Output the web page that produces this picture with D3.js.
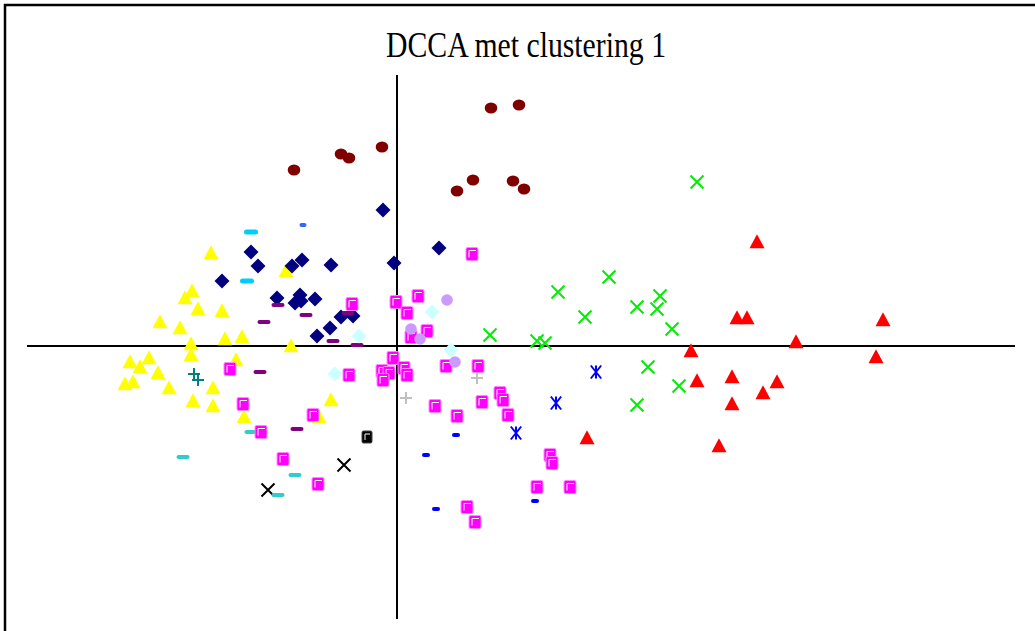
<!DOCTYPE html>
<html>
<head>
<meta charset="utf-8">
<script src="https://cdn.jsdelivr.net/npm/d3@7"></script>
<style>
  html, body { margin: 0; padding: 0; background: #fff; }
  svg { display: block; }
</style>
</head>
<body>
<svg id="chart" width="1035" height="631"></svg>
<script>
// DCCA ordination scores (axis 1, axis 2), one array per cluster
const clusterBrown = [[-1.03,1.76],[-0.56,1.92],[-0.48,1.88],[-0.15,1.99],[0.94,2.38],[1.22,2.41],[0.76,1.66],[0.60,1.55],[1.16,1.65],[1.27,1.57]];
const clusterNavy = [[-0.14,1.36],[0.42,0.98],[-0.03,0.83],[-1.46,0.94],[-1.39,0.80],[-1.75,0.65],[-1.05,0.80],[-0.95,0.86],[-0.66,0.81],[-1.20,0.48],[-0.97,0.51],[-1.02,0.43],[-0.96,0.45],[-0.82,0.47],[-0.56,0.29],[-0.44,0.30],[-0.67,0.18],[-0.80,0.10]];
const clusterYellow = [[-1.86,0.93],[-2.05,0.55],[-2.12,0.48],[-1.99,0.37],[-1.75,0.35],[-2.37,0.24],[-2.17,0.18],[-2.06,0.02],[-1.72,0.07],[-1.55,0.09],[-2.06,-0.09],[-1.61,-0.14],[-2.67,-0.16],[-2.48,-0.12],[-2.57,-0.21],[-2.39,-0.27],[-2.28,-0.42],[-2.72,-0.38],[-2.64,-0.36],[-1.84,-0.42],[-2.04,-0.55],[-1.84,-0.60],[-1.53,-0.71],[-1.11,0.75],[-1.06,0.00],[-0.66,-0.54],[-0.78,-0.71]];
const clusterRed = [[3.60,1.04],[3.40,0.28],[3.50,0.28],[4.86,0.26],[3.99,0.04],[2.94,-0.05],[4.79,-0.11],[3.00,-0.35],[3.35,-0.31],[3.80,-0.36],[3.66,-0.47],[3.35,-0.58],[1.90,-0.92],[3.22,-1.00]];
const clusterGreen = [[3.00,1.64],[2.12,0.69],[1.61,0.54],[1.88,0.29],[2.40,0.39],[2.63,0.50],[2.60,0.37],[2.75,0.17],[2.51,-0.21],[2.82,-0.40],[2.40,-0.59],[0.93,0.11],[1.40,0.05],[1.48,0.03]];
const clusterBlueStar = [[1.99,-0.26],[1.59,-0.57],[1.19,-0.87]];
const clusterBlueDash = [[0.59,-0.89],[0.29,-1.09],[0.39,-1.63],[1.38,-1.55]];
const clusterMagenta = [[0.75,0.92],[-0.45,0.42],[-0.01,0.44],[0.21,0.50],[0.10,0.33],[0.30,0.15],[0.14,0.09],[-0.04,-0.12],[-0.15,-0.25],[-0.08,-0.27],[-0.14,-0.34],[0.07,-0.22],[0.10,-0.29],[-0.48,-0.29],[0.49,-0.20],[0.81,-0.20],[1.03,-0.47],[1.06,-0.54],[0.85,-0.56],[0.38,-0.60],[0.60,-0.70],[1.11,-0.69],[1.53,-1.09],[1.55,-1.17],[1.40,-1.41],[1.73,-1.41],[0.70,-1.61],[0.78,-1.76],[-1.67,-0.23],[-1.54,-0.58],[-1.36,-0.86],[-0.84,-0.69],[-1.14,-1.13],[-0.79,-1.38]];
const clusterBlackSquare = [[-0.30,-0.91]];
const clusterBlackCross = [[-0.53,-1.19],[-1.29,-1.44]];
const clusterTurquoise = [[-2.14,-1.11],[-1.46,-0.86],[-1.02,-1.29],[-1.19,-1.49]];
const clusterSky = [[-1.46,1.14],[-1.50,0.65]];
const clusterRoyal = [[-0.94,1.21]];
const clusterPurple = [[-1.19,0.41],[-0.91,0.31],[-1.33,0.24],[-0.64,0.05],[-0.40,0.01],[-0.49,0.33],[-1.37,-0.26],[-1.00,-0.83]];
const clusterPaleCyan = [[-0.38,0.10],[-0.62,-0.28],[0.35,0.34],[0.54,-0.04]];
const clusterLavender = [[0.50,0.46],[0.14,0.17],[0.23,0.07],[0.58,-0.16]];
const clusterTeal = [[-2.03,-0.28],[-1.99,-0.34]];
const clusterGrey = [[0.80,-0.32],[0.09,-0.52]];

const titleText = "DCCA met clustering 1";
const xDomain = [-3.70, 6.18];
const yDomain = [-2.73, 2.71];

const svg = d3.select("#chart");
const x = d3.scaleLinear().domain(xDomain).range([27, 1015]);
const y = d3.scaleLinear().domain(yDomain).range([619, 75]);

// frame (top and left edges)
svg.append("path")
  .attr("d", "M5,640 L5,5 L1040,5")
  .attr("fill", "none").attr("stroke", "#000").attr("stroke-width", 2.5);

// title, narrow serif
svg.append("text")
  .attr("x", 526).attr("y", 57)
  .attr("text-anchor", "middle")
  .attr("font-family", "'Liberation Serif', 'Times New Roman', serif")
  .attr("font-size", 35)
  .attr("textLength", 280)
  .attr("lengthAdjust", "spacingAndGlyphs")
  .attr("fill", "#000")
  .text(titleText);

// axes through the origin
svg.append("line")
  .attr("x1", x(xDomain[0])).attr("x2", x(xDomain[1]))
  .attr("y1", y(0)).attr("y2", y(0))
  .attr("stroke", "#000").attr("stroke-width", 2);
svg.append("line")
  .attr("x1", x(0)).attr("x2", x(0))
  .attr("y1", y(yDomain[1])).attr("y2", y(yDomain[0]))
  .attr("stroke", "#000").attr("stroke-width", 2);

const g = svg.append("g");
const px = d => x(d[0]);
const py = d => y(d[1]);

function circles(data, color, rx, ry) {
  g.selectAll(null).data(data).enter().append("ellipse")
    .attr("cx", px).attr("cy", py).attr("rx", rx).attr("ry", ry)
    .attr("fill", color);
}
function diamonds(data, color, r) {
  g.selectAll(null).data(data).enter().append("path")
    .attr("d", d => `M${px(d)},${py(d)-r} L${px(d)+r},${py(d)} L${px(d)},${py(d)+r} L${px(d)-r},${py(d)} Z`)
    .attr("fill", color);
}
function triangles(data, color, w, h) {
  g.selectAll(null).data(data).enter().append("path")
    .attr("d", d => `M${px(d)},${py(d)-h*0.55} L${px(d)+w/2},${py(d)+h*0.45} L${px(d)-w/2},${py(d)+h*0.45} Z`)
    .attr("fill", color);
}
function crosses(data, color, r) {
  g.selectAll(null).data(data).enter().append("path")
    .attr("d", d => `M${px(d)-r},${py(d)-r} L${px(d)+r},${py(d)+r} M${px(d)+r},${py(d)-r} L${px(d)-r},${py(d)+r}`)
    .attr("stroke", color).attr("stroke-width", 2).attr("fill", "none");
}
function stars(data, color, r) {
  g.selectAll(null).data(data).enter().append("path")
    .attr("d", d => `M${px(d)-r*0.8},${py(d)-r} L${px(d)+r*0.8},${py(d)+r} M${px(d)+r*0.8},${py(d)-r} L${px(d)-r*0.8},${py(d)+r} M${px(d)},${py(d)-r} L${px(d)},${py(d)+r}`)
    .attr("stroke", color).attr("stroke-width", 2).attr("fill", "none");
}
function pluses(data, color, r) {
  g.selectAll(null).data(data).enter().append("path")
    .attr("d", d => `M${px(d)-r},${py(d)} L${px(d)+r},${py(d)} M${px(d)},${py(d)-r} L${px(d)},${py(d)+r}`)
    .attr("stroke", color).attr("stroke-width", 2).attr("fill", "none");
}
function dashes(data, color, w, h) {
  g.selectAll(null).data(data).enter().append("rect")
    .attr("x", d => px(d) - w/2).attr("y", d => py(d) - h/2)
    .attr("width", w).attr("height", h).attr("rx", h/2)
    .attr("fill", color);
}
function squares(data, color, edge, w, h) {
  const sel = g.selectAll(null).data(data).enter().append("g")
    .attr("transform", d => `translate(${px(d)},${py(d)})`);
  sel.append("rect")
    .attr("x", -w/2).attr("y", -h/2).attr("width", w).attr("height", h).attr("rx", 1.5)
    .attr("fill", color).attr("stroke", edge).attr("stroke-width", 1);
  sel.append("path")
    .attr("d", `M${-w/2+3},${h/2-3} L${-w/2+3},${-h/2+3} L${w/2-2},${-h/2+3}`)
    .attr("fill", "none").attr("stroke", "#fff").attr("stroke-width", 1);
}

triangles(clusterYellow, "#FFFF00", 15, 14);
triangles(clusterRed, "#FF0000", 15, 14);
circles(clusterBrown, "#800000", 6.3, 5.6);
diamonds(clusterNavy, "#000080", 7.5);
crosses(clusterGreen, "#00EE00", 6.5);
crosses(clusterBlackCross, "#000000", 6.5);
stars(clusterBlueStar, "#0000FF", 6.5);
dashes(clusterBlueDash, "#0000FF", 8, 4);
dashes(clusterTurquoise, "#33CCCC", 13, 4);
dashes(clusterSky, "#00CCFF", 14, 5);
dashes(clusterRoyal, "#3366FF", 7, 4);
dashes(clusterPurple, "#800080", 13, 4);
pluses(clusterTeal, "#008080", 6);
pluses(clusterGrey, "#C0C0C0", 6);
squares(clusterMagenta, "#FF00FF", "#FF88FF", 12, 13);
squares(clusterBlackSquare, "#000000", "#444", 10, 12);
diamonds(clusterPaleCyan, "#CCFFFF", 7.5);
circles(clusterLavender, "#CC99FF", 5.8, 5.8);
</script>
</body>
</html>
